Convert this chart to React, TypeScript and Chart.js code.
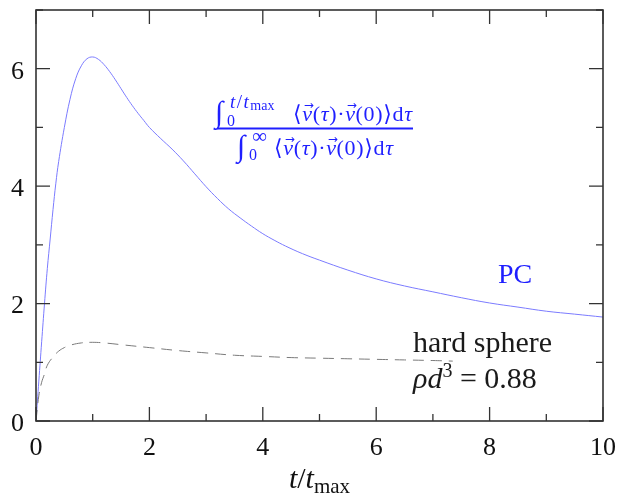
import React, { useEffect, useRef } from "react";
import { Chart, registerables } from "chart.js";

Chart.register(...registerables);

const pcX = [0, 0.05, 0.1, 0.15, 0.2, 0.25, 0.3, 0.35, 0.4, 0.5, 0.6, 0.7, 0.8, 0.9, 1.0, 1.1, 1.2, 1.3, 1.4, 1.5, 1.6, 1.7, 1.8, 1.9, 2.0, 2.2, 2.4, 2.6, 2.8, 3.0, 3.2, 3.4, 3.6, 3.8, 4.0, 4.2, 4.4, 4.7, 5.0, 5.5, 6.0, 6.5, 7.0, 7.5, 8.0, 8.5, 9.0, 9.5, 10];
const pcY = [0, 0.68, 1.35, 2.0, 2.6, 3.1, 3.6, 4.05, 4.42, 5.0, 5.48, 5.83, 6.05, 6.17, 6.2, 6.16, 6.07, 5.95, 5.81, 5.66, 5.51, 5.37, 5.24, 5.12, 5.0, 4.81, 4.63, 4.43, 4.21, 3.99, 3.79, 3.61, 3.46, 3.32, 3.19, 3.08, 2.98, 2.85, 2.74, 2.57, 2.42, 2.3, 2.2, 2.1, 2.01, 1.94, 1.87, 1.82, 1.77];

const hsX = [0, 0.05, 0.1, 0.15, 0.2, 0.3, 0.4, 0.5, 0.6, 0.8, 1.0, 1.2, 1.5, 2.0, 2.5, 3.0, 3.5, 4.0, 4.5, 5.0, 5.5, 6.0, 6.5, 7.0, 7.35];
const hsY = [0, 0.43, 0.66, 0.8, 0.95, 1.09, 1.19, 1.25, 1.29, 1.33, 1.34, 1.33, 1.3, 1.25, 1.2, 1.16, 1.12, 1.1, 1.08, 1.07, 1.06, 1.05, 1.04, 1.03, 1.02];

const xTickValues = [0, 2, 4, 6, 8, 10];
const xTickLabels = ["0", "2", "4", "6", "8", "10"];
const xMinorValues = [1, 3, 5, 7, 9];
const yTickValues = [0, 2, 4, 6];
const yTickLabels = ["0", "2", "4", "6"];
const yMinorValues = [1, 3, 5, 7];

const SERIF = '"Liberation Serif", "DejaVu Serif", serif';
const f = (size: number, italic = false) => `${italic ? "italic " : ""}${size}px ${SERIF}`;

type Run = { t: string; font: string; dy?: number; vec?: boolean };

function runsWidth(ctx: CanvasRenderingContext2D, runs: Run[]) {
  let w = 0;
  for (const r of runs) {
    ctx.font = r.font;
    w += ctx.measureText(r.t).width;
  }
  return w;
}

function drawRuns(ctx: CanvasRenderingContext2D, x: number, y: number, runs: Run[], gap = 0) {
  let cx = x;
  for (const r of runs) {
    ctx.font = r.font;
    const w = ctx.measureText(r.t).width;
    ctx.fillText(r.t, cx, y + (r.dy || 0));
    if (r.vec) {
      const m = /(\d+)px/.exec(r.font);
      const s = m ? parseFloat(m[1]) : 20;
      ctx.save();
      ctx.font = `${Math.round(s * 0.55)}px "DejaVu Sans", sans-serif`;
      ctx.textAlign = "center";
      ctx.fillText("→", cx + w / 2 + s * 0.08, y - s * 0.55);
      ctx.restore();
    }
    cx += w + gap;
  }
  return cx;
}

function drawFitted(ctx: CanvasRenderingContext2D, x: number, y: number, runs: Run[], target: number) {
  const w = runsWidth(ctx, runs);
  const gap = runs.length > 1 ? Math.max(0, (target - w) / (runs.length - 1)) : 0;
  drawRuns(ctx, x, y, runs, gap);
}

const overlay = {
  id: "overlay",
  afterDraw(chart: any) {
    const ctx: CanvasRenderingContext2D = chart.ctx;
    const a = chart.chartArea;
    const xs = chart.scales.x;
    const ys = chart.scales.y;
    ctx.save();
    // frame
    ctx.strokeStyle = "#333";
    ctx.lineWidth = 1.6;
    ctx.strokeRect(a.left, a.top, a.right - a.left, a.bottom - a.top);
    ctx.lineWidth = 1.3;
    ctx.beginPath();
    const xt = (v: number, len: number) => {
      const px = xs.getPixelForValue(v);
      ctx.moveTo(px, a.bottom);
      ctx.lineTo(px, a.bottom - len);
      ctx.moveTo(px, a.top);
      ctx.lineTo(px, a.top + len);
    };
    const yt = (v: number, len: number) => {
      const py = ys.getPixelForValue(v);
      ctx.moveTo(a.left, py);
      ctx.lineTo(a.left + len, py);
      ctx.moveTo(a.right, py);
      ctx.lineTo(a.right - len, py);
    };
    xTickValues.forEach((v) => xt(v, 14));
    xMinorValues.forEach((v) => xt(v, 7));
    yTickValues.forEach((v) => yt(v, 14));
    yMinorValues.forEach((v) => yt(v, 7));
    ctx.stroke();

    // tick labels
    ctx.fillStyle = "#111";
    ctx.font = f(26);
    ctx.textAlign = "center";
    ctx.textBaseline = "alphabetic";
    xTickValues.forEach((v, i) => {
      ctx.fillText(xTickLabels[i], xs.getPixelForValue(v), 455);
    });
    ctx.textAlign = "right";
    ctx.textBaseline = "middle";
    yTickValues.forEach((v, i) => {
      ctx.fillText(yTickLabels[i], a.left - 12, ys.getPixelForValue(v) + 3);
    });

    // axis title t/t_max
    ctx.textAlign = "left";
    ctx.textBaseline = "alphabetic";
    const titleRuns: Run[] = [
      { t: "t", font: f(30, true) },
      { t: "/", font: f(30) },
      { t: "t", font: f(30, true) },
      { t: "max", font: f(21), dy: 5 },
    ];
    const tw = runsWidth(ctx, titleRuns);
    drawRuns(ctx, (a.left + a.right) / 2 - tw / 2, 488, titleRuns);

    // annotations
    ctx.fillStyle = "#1a1a1a";
    drawRuns(ctx, 413, 352, [{ t: "hard sphere", font: f(30) }]);
    drawRuns(ctx, 413, 388, [
      { t: "ρd", font: f(30, true) },
      { t: "3", font: f(20), dy: -11 },
      { t: " = 0.88", font: f(30) },
    ]);

    ctx.fillStyle = "#1f1fff";
    drawRuns(ctx, 498, 283, [{ t: "PC", font: f(28) }]);

    // formula
    const mainRuns = (s: number): Run[] => [
      { t: "⟨", font: f(s) },
      { t: "v", font: f(s, true), vec: true },
      { t: "(", font: f(s) },
      { t: "τ", font: f(s, true) },
      { t: ")", font: f(s) },
      { t: "·", font: f(s) },
      { t: "v", font: f(s, true), vec: true },
      { t: "(", font: f(s) },
      { t: "0", font: f(s) },
      { t: ")", font: f(s) },
      { t: "⟩", font: f(s) },
      { t: "d", font: f(s) },
      { t: "τ", font: f(s, true) },
    ];
    // numerator
    drawFitted(ctx, 293, 121, mainRuns(22), 119);
    drawRuns(ctx, 215, 122, [{ t: "∫", font: f(30) }]);
    drawRuns(ctx, 227, 126, [{ t: "0", font: f(16) }]);
    drawRuns(ctx, 230, 108, [
      { t: "t", font: f(19, true) },
      { t: "/", font: f(19) },
      { t: "t", font: f(19, true) },
      { t: "max", font: f(14), dy: 2 },
    ], 1.5);
    // denominator
    drawFitted(ctx, 274, 155, mainRuns(22), 119);
    drawRuns(ctx, 237, 156, [{ t: "∫", font: f(30) }]);
    drawRuns(ctx, 249, 160, [{ t: "0", font: f(16) }]);
    drawRuns(ctx, 252, 143, [{ t: "∞", font: f(21) }]);
    ctx.strokeStyle = "#1f1fff";
    ctx.lineWidth = 2;
    ctx.beginPath();
    ctx.moveTo(217, 128.5);
    ctx.lineTo(413, 128.5);
    ctx.stroke();
    ctx.restore();
  },
};

export default function App() {
  const ref = useRef<HTMLCanvasElement | null>(null);
  useEffect(() => {
    if (!ref.current) return;
    const chart = new Chart(ref.current, {
      type: "line",
      data: {
        datasets: [
          {
            label: "hard sphere",
            data: hsX.map((x, i) => ({ x, y: hsY[i] })),
            borderColor: "#7a7a7a",
            borderWidth: 1,
            borderDash: [11, 7],
            pointRadius: 0,
            fill: false,
            tension: 0.4,
          },
          {
            label: "PC",
            data: pcX.map((x, i) => ({ x, y: pcY[i] })),
            borderColor: "#7b7bff",
            borderWidth: 1,
            pointRadius: 0,
            fill: false,
            tension: 0.4,
          },
        ],
      },
      options: {
        responsive: false,
        animation: false,
        events: [],
        layout: { padding: { left: 36, right: 17, top: 10, bottom: 75 } },
        plugins: { legend: { display: false }, tooltip: { enabled: false } },
        scales: {
          x: { type: "linear", min: 0, max: 10, display: false },
          y: { type: "linear", min: 0, max: 7, display: false },
        },
      },
      plugins: [overlay],
    });
    return () => chart.destroy();
  }, []);
  return (
    <div style={{ position: "fixed", left: 0, top: 0, width: 620, height: 496, background: "#fff" }}>
      <canvas ref={ref} width={620} height={496} style={{ display: "block" }} />
    </div>
  );
}
